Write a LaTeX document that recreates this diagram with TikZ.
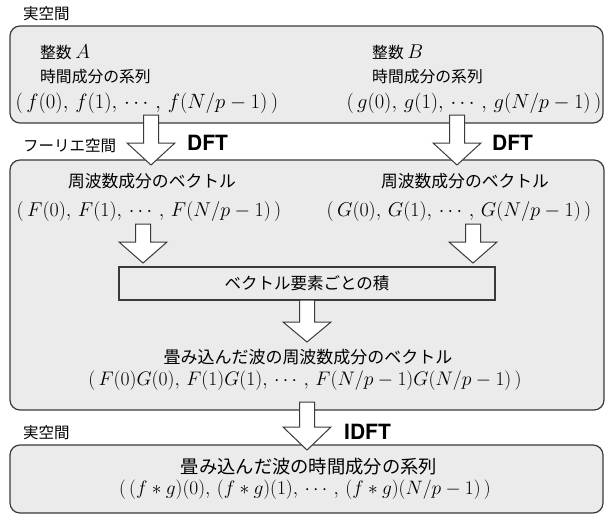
\RequirePackage{fix-cm}
\documentclass[tikz,border=0pt]{standalone}
\usepackage{fontspec}
\newfontfamily\jp{Noto Sans CJK JP}
\newfontfamily\hv{TeX Gyre Heros}
\definecolor{boxfill}{HTML}{EBEBEB}
\definecolor{edge}{HTML}{3A3A3A}
\newcommand\jsize[1]{\fontsize{#1}{#1}\selectfont}
\tikzset{
  x=1pt, y=-1pt,
  spacebox/.style={draw=edge, fill=boxfill, line width=1.2pt, rounded corners=10pt},
  opbox/.style={draw=edge, fill=boxfill, line width=1.1pt, minimum width=376pt, minimum height=33pt, inner sep=0pt},
  jtxt/.style={inner sep=0pt, font=\jp\jsize{15.8}, text=black},
  ltxt/.style={jtxt, anchor=west},
  mtxt/.style={inner sep=0pt, font=\jsize{19.6}},
  ftxt/.style={inner sep=0pt, anchor=west, font=\hv\bfseries\jsize{21}},
  barrowst/.style={draw=edge, fill=white, line width=1pt, line join=miter}
}
\usetikzlibrary{calc}
% block arrow: #1 = name prefix, #2 = x centre, #3 = shaft top, #4 = head top, #5 = tip
\newcommand\blockarrow[5]{%
  \coordinate (#1-top) at (#2,#3);
  \coordinate (#1-tip) at (#2,#5);
  \draw[barrowst] ($(#1-top)+(-7.5,0)$) -- ($(#1-top)+(7.5,0)$) -- (#2+7.5,#4) -- (#2+24,#4)
     -- (#1-tip) -- (#2-24,#4) -- (#2-7.5,#4) -- cycle;
}
\begin{document}
\begin{tikzpicture}
\useasboundingbox (0,0) rectangle (606,515);
% boxes
\draw[spacebox] (10,26) rectangle (603,123);
\draw[spacebox] (10,160) rectangle (604,410);
\draw[spacebox] (10,445) rectangle (603,513);
% labels of spaces
\node[ltxt, font=\jp\jsize{15.5}] (lab1) at (23,14) {実空間};
\node[ltxt, font=\jp\jsize{15.5}] (lab2) at (23,146) {フーリエ空間};
\node[ltxt, font=\jp\jsize{15.5}] (lab3) at (23,433) {実空間};
% real space, top
\node[ltxt] (ia) at (40,52) {整数 \jsize{20}$A$};
\node[ltxt] (ta) at (40,77) {時間成分の系列};
\node[mtxt, font=\jsize{20.7}] (fa) at (147,103) {$(\,f(0),\,f(1),\,\cdots\,,\,f(N/p-1)\,)$};
\node[ltxt] (ib) at (372,52) {整数 \jsize{20}$B$};
\node[ltxt] (tb) at (372,77) {時間成分の系列};
\node[mtxt, font=\jsize{20.5}] (gb) at (474,103) {$(\,g(0),\,g(1),\,\cdots\,,\,g(N/p-1)\,)$};
% DFT arrows
\blockarrow{a1}{151}{115}{143}{165}
\blockarrow{a2}{457}{115}{143}{165}
\node[ftxt] (dft1) at (187,143) {DFT};
\node[ftxt] (dft2) at (492,143) {DFT};
% Fourier space
\node[jtxt, font=\jp\jsize{16.8}] (va) at (152,181) {周波数成分のベクトル};
\node[mtxt, font=\jsize{20}] (Fa) at (149,211) {$(\,F(0),\,F(1),\,\cdots\,,\,F(N/p-1)\,)$};
\node[jtxt, font=\jp\jsize{16.8}] (vb) at (465,181) {周波数成分のベクトル};
\node[mtxt, font=\jsize{20}] (Gb) at (459,211) {$(\,G(0),\,G(1),\,\cdots\,,\,G(N/p-1)\,)$};
\blockarrow{a3}{143}{224}{242}{263}
\blockarrow{a4}{473}{224}{242}{263}
\node[opbox] (op) at (307,283.5) {};
\node[jtxt, font=\jp\jsize{16.5}] (optext) at (op.center) {ベクトル要素ごとの積};
\blockarrow{a5}{307}{300}{322}{342}
\node[jtxt, font=\jp\jsize{17}] (vc) at (308,357) {畳み込んだ波の周波数成分のベクトル};
\node[mtxt] (FG) at (305,381) {$(\,F(0)G(0),\,F(1)G(1),\,\cdots\,,\,F(N/p-1)G(N/p-1)\,)$};
% IDFT
\blockarrow{a6}{307}{402}{427}{450}
\node[ftxt] (idft) at (344,432) {IDFT};
% real space, bottom
\node[jtxt, font=\jp\jsize{18.3}] (tc) at (309,467) {畳み込んだ波の時間成分の系列};
\node[mtxt, font=\jsize{19.4}] (fg) at (305,490) {$(\,(f*g)(0),\,(f*g)(1),\,\cdots\,,\,(f*g)(N/p-1)\,)$};
\end{tikzpicture}
\end{document}
